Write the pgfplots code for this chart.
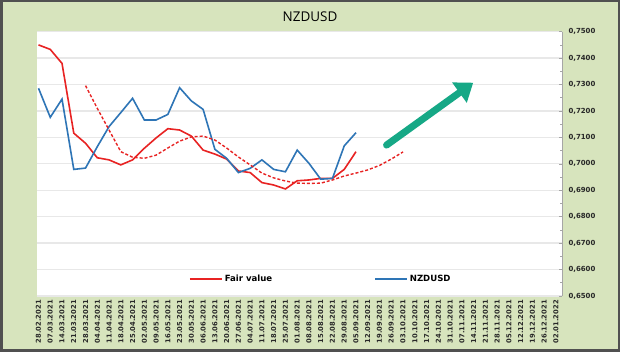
\documentclass[border=0pt]{standalone}
\usepackage{pgfplots}
\pgfplotsset{compat=1.18}
\usepackage{fontspec}
\setmainfont{DejaVu Sans}
\newfontfamily\titlefont{Open Sans}
\usetikzlibrary{arrows.meta}
\definecolor{bggreen}{RGB}{215,228,189}
\definecolor{frame}{RGB}{80,80,80}
\definecolor{fvred}{RGB}{232,35,35}
\definecolor{nzblue}{RGB}{46,117,182}
\definecolor{arrowteal}{RGB}{22,168,134}
\definecolor{ticktext}{RGB}{40,40,40}
\pgfplotstableread{
x y
0 0.7450
1 0.7433
2 0.7380
3 0.7116
4 0.7078
5 0.7023
6 0.7015
7 0.6996
8 0.7015
9 0.7059
10 0.7098
11 0.7133
12 0.7128
13 0.7105
14 0.7052
15 0.7037
16 0.7018
17 0.6973
18 0.6967
19 0.6929
20 0.6920
21 0.6905
22 0.6936
23 0.6939
24 0.6945
25 0.6945
26 0.6979
27 0.7046
}\fairvalue
\pgfplotstableread{
x y
0 0.7286
1 0.7176
2 0.7245
3 0.6979
4 0.6984
5 0.7065
6 0.7141
7 0.7194
8 0.7248
9 0.7166
10 0.7166
11 0.7187
12 0.7288
13 0.7238
14 0.7206
15 0.7055
16 0.7021
17 0.6967
18 0.6983
19 0.7015
20 0.6979
21 0.6970
22 0.7052
23 0.7002
24 0.6942
25 0.6945
26 0.7068
27 0.7118
}\nzdusd
\pgfplotstableread{
x y
4 0.7296
5 0.7210
6 0.7128
7 0.7046
8 0.7025
9 0.7021
10 0.7033
11 0.7060
12 0.7086
13 0.7102
14 0.7105
15 0.7090
16 0.7060
17 0.7026
18 0.6996
19 0.6965
20 0.6947
21 0.6935
22 0.6927
23 0.6926
24 0.6927
25 0.6939
26 0.6954
27 0.6965
28 0.6977
29 0.6994
30 0.7018
31 0.7045
}\trend
\begin{document}
\begin{tikzpicture}
\fill[bggreen] (0,0) rectangle (620bp,352bp);
\draw[frame, line width=2.5bp] (1.25bp,1.25bp) rectangle (618.75bp,350.75bp);
\useasboundingbox (0,0) rectangle (620bp,352bp);
\node[font=\titlefont\fontsize{13.5}{16}\selectfont, text=black] at (310bp,335bp) {NZDUSD};
\begin{axis}[
  at={(37bp,56bp)}, anchor=south west,
  scale only axis, width=525bp, height=264.3bp,
  xmin=-0.128, xmax=44.52, ymin=0.65, ymax=0.75,
  axis background/.style={fill=white},
  axis x line*=bottom, axis y line*=right,
  x axis line style={draw=none},
  y axis line style={draw=gray!70, line width=0.8bp},
  xtick={0,...,44},
  xticklabels={28.02.2021,07.03.2021,14.03.2021,21.03.2021,28.03.2021,04.04.2021,11.04.2021,18.04.2021,25.04.2021,02.05.2021,09.05.2021,16.05.2021,23.05.2021,30.05.2021,06.06.2021,13.06.2021,20.06.2021,27.06.2021,04.07.2021,11.07.2021,18.07.2021,25.07.2021,01.08.2021,08.08.2021,15.08.2021,22.08.2021,29.08.2021,05.09.2021,12.09.2021,19.09.2021,26.09.2021,03.10.2021,10.10.2021,17.10.2021,24.10.2021,31.10.2021,07.11.2021,14.11.2021,21.11.2021,28.11.2021,05.12.2021,12.12.2021,19.12.2021,26.12.2021,02.01.2022},
  x tick label style={rotate=90, anchor=east, inner sep=0pt, xshift=-4bp, font=\bfseries\fontsize{6.8}{7}\selectfont, text=ticktext},
  x tick style={draw=none},
  major x tick style={draw=none},
  ytick={0.65,0.66,0.67,0.68,0.69,0.70,0.71,0.72,0.73,0.74,0.75},
  minor y tick num=1,
  y tick style={draw=gray!70, line width=0.6bp},
  major tick length=3bp, minor tick length=2bp,
  ytick align=inside,
  y tick label style={font=\bfseries\fontsize{7}{8}\selectfont, text=ticktext, xshift=3bp},
  /pgf/number format/.cd, fixed, fixed zerofill, precision=4, use comma, assume math mode=true,
  /pgfplots/.cd,
  ymajorgrids, grid style={draw=gray!18, line width=1.3bp},
  clip=false,
  legend columns=2,
  legend style={at={(0.2895,0.0632)}, anchor=west, draw=none, fill=none, inner sep=0pt,
    font=\bfseries\fontsize{8.6}{10}\selectfont,
    /tikz/every even column/.append style={column sep=100bp}},
  legend image code/.code={\draw[#1, line width=1.6bp] (0bp,0bp) -- (32bp,0bp);},
]
\addplot[fvred, line width=1.6bp] table[x=x,y=y] {\fairvalue};
\addlegendentry{Fair value}
\addplot[nzblue, line width=1.6bp] table[x=x,y=y] {\nzdusd};
\addlegendentry{NZDUSD}
\addplot[fvred, line width=1.4bp, dash pattern=on 3bp off 2bp, forget plot] table[x=x,y=y] {\trend};
\draw[arrowteal, line width=7bp, line cap=round, -{Triangle[length=17bp,width=24bp]}] (axis cs:29.6,0.7071) -- (axis cs:36.97,0.7307);
\end{axis}
\end{tikzpicture}
\end{document}
